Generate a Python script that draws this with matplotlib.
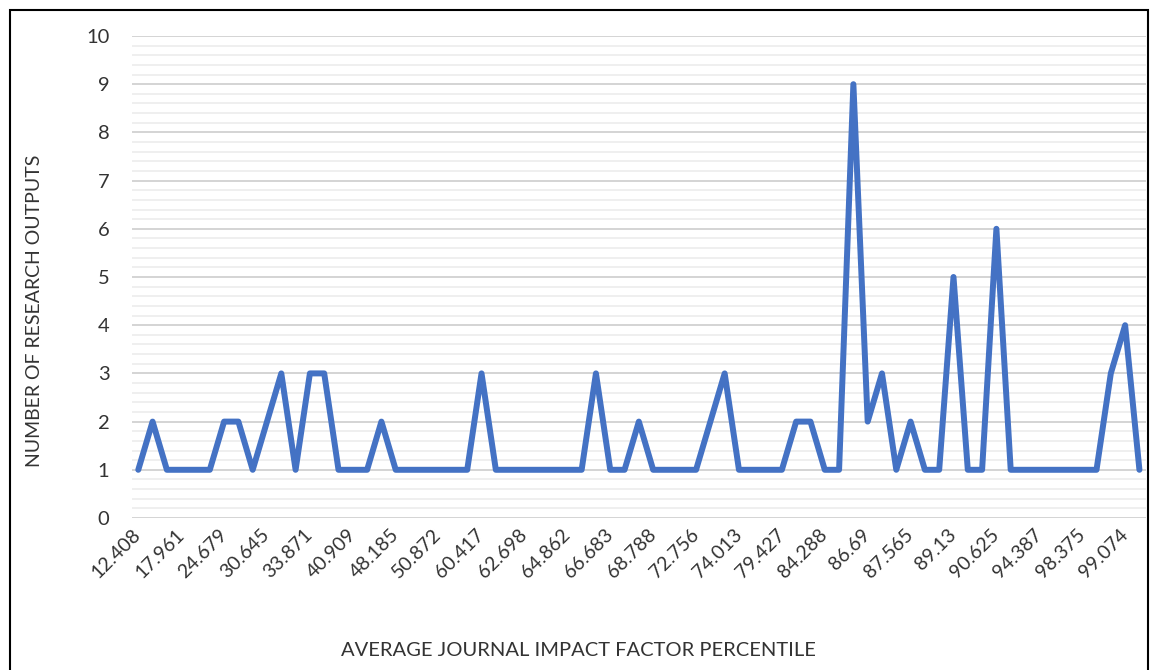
import matplotlib
matplotlib.use('Agg')
import matplotlib.pyplot as plt
from matplotlib.patches import Rectangle
from matplotlib.ticker import MultipleLocator

# ---- data --------------------------------------------------------------------
# Research outputs per journal-impact-factor percentile (one point per category;
# only every third category is labelled on the axis).
outputs = [1, 2, 1, 1, 1, 1, 2, 2, 1, 2, 3, 1, 3, 3, 1, 1, 1, 2, 1, 1,
           1, 1, 1, 1, 3, 1, 1, 1, 1, 1, 1, 1, 3, 1, 1, 2, 1, 1, 1, 1,
           2, 3, 1, 1, 1, 1, 2, 2, 1, 1, 9, 2, 3, 1, 2, 1, 1, 5, 1, 1,
           6, 1, 1, 1, 1, 1, 1, 1, 3, 4, 1]
tick_labels = ['12.408', '17.961', '24.679', '30.645', '33.871', '40.909',
               '48.185', '50.872', '60.417', '62.698', '64.862', '66.683',
               '68.788', '72.756', '74.013', '79.427', '84.288', '86.69',
               '87.565', '89.13', '90.625', '94.387', '98.375', '99.074']
label_every = 3

x_title = 'AVERAGE JOURNAL IMPACT FACTOR PERCENTILE'
y_title = 'NUMBER OF RESEARCH OUTPUTS'

# ---- style -------------------------------------------------------------------
plt.rcParams['font.family'] = ['Lato', 'DejaVu Sans']
W, H = 1151, 670
text_col = '#333333'
line_col = '#4472C4'

fig = plt.figure(figsize=(W / 100, H / 100), dpi=100)
ax = fig.add_axes([131.7 / W, 1 - 518 / H, (1146 - 131.7) / W, 482 / H])

x = list(range(len(outputs)))
ax.plot(x, outputs, color=line_col, lw=4.3, solid_joinstyle='round',
        solid_capstyle='round', clip_on=False, zorder=3)

ax.set_ylim(0, 10)
ax.set_xlim(-0.46, len(outputs) - 1 + 0.46)
ax.yaxis.set_major_locator(MultipleLocator(1))
ax.yaxis.set_minor_locator(MultipleLocator(0.2))
ax.grid(axis='y', which='major', color='#d4d4d4', lw=1.4)
ax.grid(axis='y', which='minor', color='#efefef', lw=1.4)
ax.set_axisbelow(True)
for s in ax.spines.values():
    s.set_visible(False)

ax.set_xticks(x[::label_every])
ax.set_xticklabels(tick_labels, rotation=45, ha='right', va='center',
                   rotation_mode='anchor')
ax.tick_params(axis='x', length=0, pad=10, labelsize=14, labelcolor=text_col)
ax.tick_params(axis='y', which='both', length=0, pad=16, labelsize=14.5,
               labelcolor=text_col)

fig.text(578 / W, 1 - 651 / H, x_title, ha='center', va='center',
         fontsize=14.5, color=text_col)
fig.text(35 / W, 1 - 311 / H, y_title, ha='center', va='center',
         rotation=90, fontsize=14, color=text_col)

# black frame round the chart
fig.patches.append(Rectangle((10 / W, -0.05), (1148 - 10) / W, 1.05 - 10 / H,
                             transform=fig.transFigure, fill=False,
                             ec='black', lw=1.5))

fig.savefig('out.png', dpi=100)
